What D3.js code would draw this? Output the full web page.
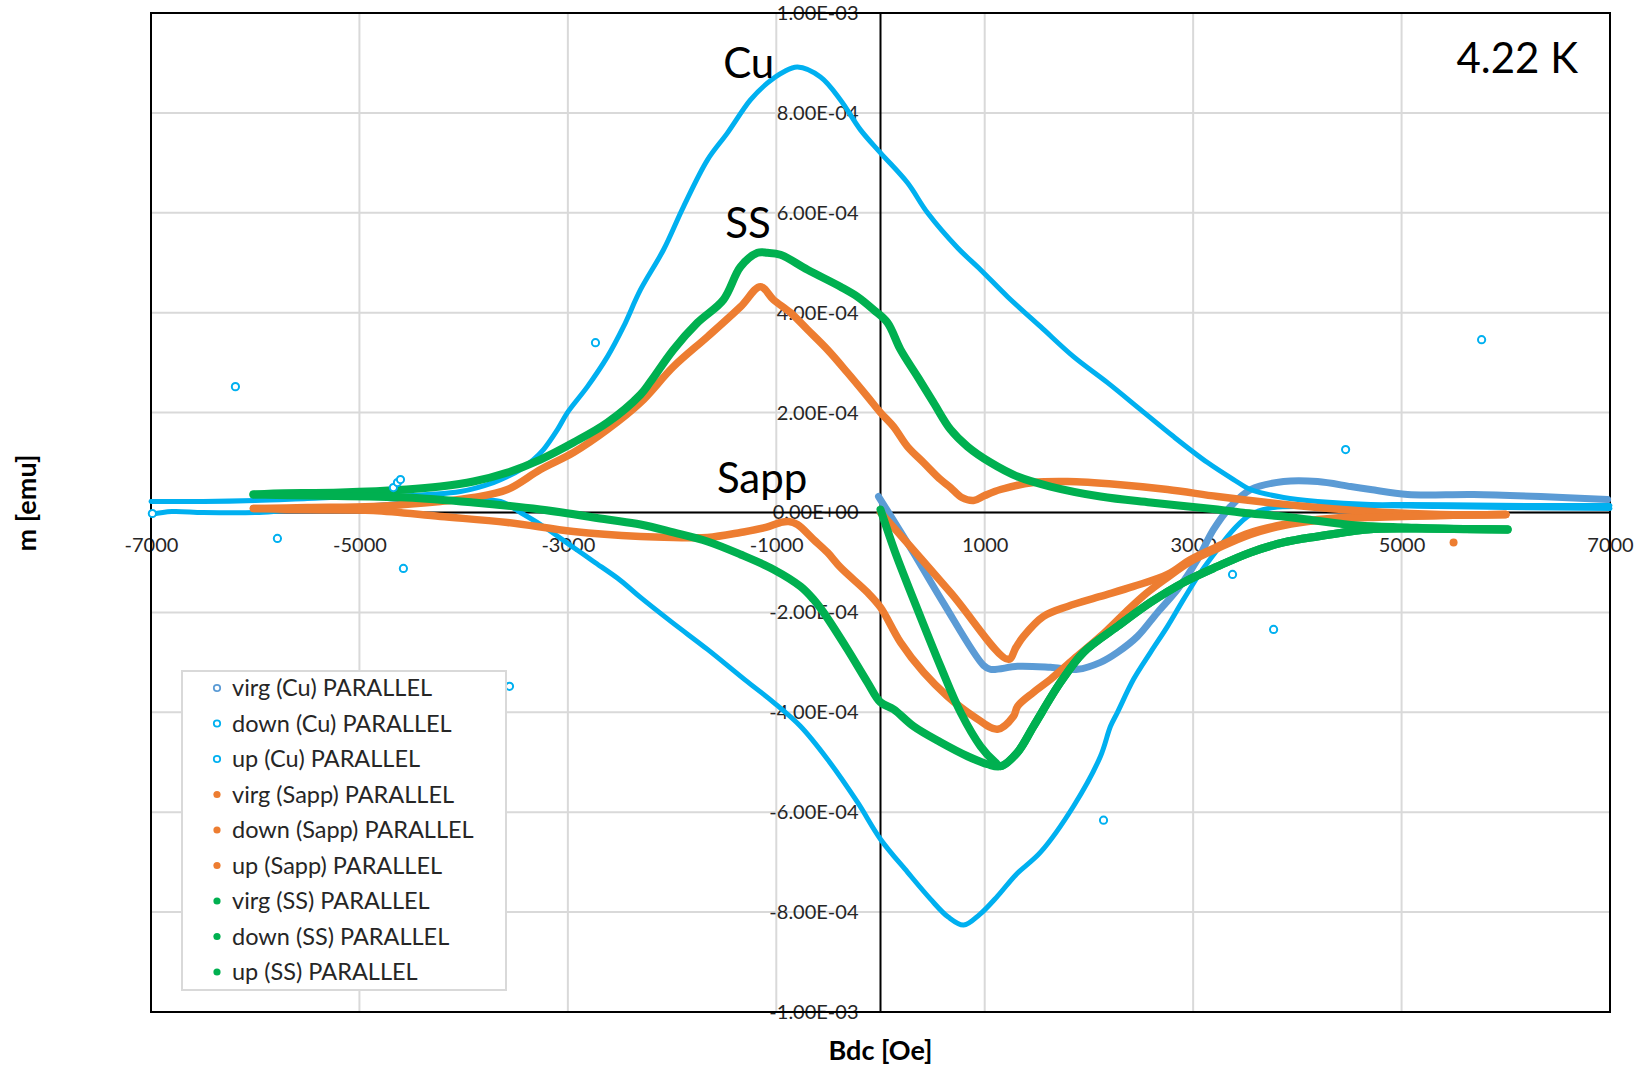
<!DOCTYPE html>
<html>
<head>
<meta charset="utf-8">
<script src="https://cdn.jsdelivr.net/npm/d3@7"></script>
<style>
  body { margin: 0; background: #fff; }
  svg { display: block; }
  text { font-family: Lato, "Open Sans", "Noto Sans", sans-serif; }
</style>
</head>
<body>
<svg id="chart" width="1644" height="1069"></svg>
<script>
// Tick values
const fieldTicks = [-7000, -5000, -3000, -1000, 1000, 3000, 5000, 7000];
const momentTicks = [-1e-3, -8e-4, -6e-4, -4e-4, -2e-4, 0, 2e-4, 4e-4, 6e-4, 8e-4, 1e-3];

// Moment values below are in units of 1e-4 emu; field in Oe.
const UNIT = 1e-4;

// Cu sample
const cuVirg = [[-19,0.32],[300,-0.75],[600,-1.8],[988,-3.06],[1056,-3.14],[1315,-3.08],[1631,-3.1],[1891,-3.14],[2111,-3.0],[2274,-2.8],[2466,-2.48],[2658,-2.0],[2850,-1.54],[3042,-0.94],[3196,-0.34],[3359,0.12],[3551,0.46],[3868,0.62],[4194,0.62],[4511,0.52],[4703,0.46],[5058,0.36],[5691,0.36],[6334,0.32],[6977,0.26]];
const cuDown = [[7000,0.14],[6300,0.14],[5691,0.15],[5058,0.16],[4703,0.16],[4194,0.22],[3868,0.3],[3551,0.46],[3388,0.66],[3138,1.0],[2812,1.52],[2495,2.06],[2178,2.6],[1852,3.12],[1536,3.72],[1219,4.32],[960,4.86],[739,5.3],[451,6.0],[259,6.6],[0,7.2],[-192,7.66],[-384,8.26],[-576,8.72],[-797,8.92],[-931,8.82],[-1084,8.6],[-1248,8.26],[-1468,7.6],[-1660,7.06],[-1891,6.12],[-2082,5.26],[-2303,4.46],[-2466,3.72],[-2620,3.12],[-2812,2.52],[-3004,2.0],[-3100,1.66],[-3234,1.26],[-3330,1.06],[-3455,0.86],[-3580,0.72],[-3714,0.6],[-4031,0.42],[-4347,0.36],[-4674,0.32],[-5000,0.32],[-5500,0.28],[-6000,0.24],[-6500,0.22],[-7000,0.22]];
const cuUp = [[-7000,-0.04],[-6800,0.02],[-6500,0.0],[-6000,0.0],[-5700,0.04],[-5000,0.12],[-4500,0.2],[-4000,0.26],[-3647,0.22],[-3455,0.0],[-3234,-0.28],[-2946,-0.7],[-2754,-0.98],[-2495,-1.36],[-2303,-1.7],[-2000,-2.2],[-1660,-2.74],[-1300,-3.35],[-1027,-3.8],[-768,-4.28],[-509,-4.94],[-221,-5.8],[0,-6.54],[259,-7.2],[480,-7.74],[650,-8.1],[797,-8.26],[950,-8.05],[1123,-7.68],[1300,-7.25],[1536,-6.8],[1852,-5.88],[2111,-4.88],[2207,-4.28],[2274,-4.0],[2428,-3.34],[2591,-2.8],[2754,-2.28],[2908,-1.74],[3071,-1.2],[3234,-0.74],[3388,-0.34],[3551,-0.04],[3772,0.1],[4194,0.12],[4703,0.14],[5300,0.12],[6000,0.1],[7000,0.08]];
const cuStray = [[-6987,-0.02],[-6190,2.52],[-5787,-0.52],[-4674,0.5],[-4635,0.6],[-4606,0.66],[-4578,-1.12],[-3560,-3.48],[-2735,3.4],[2140,-6.16],[3378,-1.24],[3772,-2.34],[4463,1.26],[5768,3.46]];

// Sapphire sample
const sappVirg = [[0,0],[672,-1.6],[1228,-2.94],[1300,-2.7],[1372,-2.48],[1564,-2.08],[1795,-1.88],[2111,-1.68],[2428,-1.48],[2754,-1.24],[2975,-0.94],[3234,-0.68],[3551,-0.4],[3868,-0.24],[4194,-0.14],[4674,-0.08],[5374,-0.06],[6000,-0.04]];
const sappDown = [[6000,-0.04],[5374,-0.04],[4703,0.02],[4194,0.1],[3714,0.2],[3234,0.32],[2754,0.46],[2274,0.56],[1795,0.62],[1468,0.6],[1152,0.46],[1000,0.34],[893,0.24],[780,0.3],[672,0.5],[576,0.66],[413,1.0],[259,1.32],[125,1.72],[0,2.0],[-125,2.32],[-317,2.8],[-509,3.26],[-700,3.66],[-864,4.0],[-1027,4.26],[-1152,4.52],[-1343,4.12],[-1660,3.52],[-1987,2.92],[-2303,2.2],[-2620,1.66],[-2946,1.2],[-3263,0.86],[-3580,0.46],[-3906,0.3],[-4223,0.22],[-4866,0.12],[-5499,0.1],[-6017,0.08]];
const sappUp = [[-6017,0.08],[-5500,0.06],[-4866,0.04],[-4223,-0.08],[-3580,-0.2],[-2946,-0.38],[-2303,-0.48],[-1987,-0.5],[-1660,-0.5],[-1343,-0.4],[-1100,-0.3],[-960,-0.2],[-880,-0.18],[-797,-0.24],[-643,-0.54],[-509,-0.8],[-384,-1.1],[-125,-1.6],[0,-1.9],[192,-2.6],[413,-3.2],[643,-3.68],[893,-4.08],[1123,-4.34],[1276,-4.08],[1315,-3.88],[1468,-3.6],[1631,-3.34],[1852,-2.94],[2111,-2.48],[2350,-2.0],[2550,-1.62],[2754,-1.3],[2975,-0.98],[3234,-0.72],[3551,-0.44],[3868,-0.26],[4194,-0.16],[4674,-0.1],[5374,-0.06],[6000,-0.04]];
const sappStray = [[5499,-0.6]];

// Stainless steel sample
const ssVirg = [[0,0.06],[150,-0.85],[317,-1.74],[576,-3.08],[768,-4.0],[960,-4.68],[1100,-5.0],[1152,-5.08],[1315,-4.8],[1468,-4.28],[1727,-3.4],[1948,-2.8],[2274,-2.28],[2591,-1.8],[2908,-1.4],[3234,-1.08],[3551,-0.8],[3868,-0.6],[4194,-0.48],[4674,-0.34],[5058,-0.32],[6017,-0.34]];
const ssDown = [[6017,-0.34],[5500,-0.33],[5058,-0.3],[4578,-0.26],[4098,-0.14],[3868,-0.08],[3455,0.0],[3234,0.06],[2591,0.2],[2111,0.32],[1631,0.52],[1315,0.72],[1056,1.0],[835,1.32],[672,1.66],[509,2.2],[355,2.72],[192,3.26],[67,3.8],[-67,4.06],[-221,4.32],[-384,4.52],[-700,4.86],[-960,5.16],[-1084,5.2],[-1180,5.2],[-1343,4.92],[-1507,4.26],[-1756,3.8],[-1987,3.26],[-2207,2.62],[-2303,2.36],[-2620,1.8],[-2946,1.4],[-3263,1.06],[-3580,0.8],[-3906,0.62],[-4223,0.52],[-4549,0.46],[-5182,0.4],[-5825,0.38],[-6017,0.36]];
const ssUp = [[-6017,0.36],[-5500,0.34],[-4549,0.3],[-3906,0.2],[-3263,0.06],[-2620,-0.14],[-2303,-0.24],[-1987,-0.4],[-1660,-0.58],[-1343,-0.84],[-1027,-1.14],[-768,-1.48],[-643,-1.74],[-547,-2.0],[-317,-2.74],[-125,-3.4],[0,-3.8],[125,-3.94],[317,-4.28],[576,-4.6],[835,-4.88],[1027,-5.04],[1152,-5.08],[1315,-4.8],[1468,-4.28],[1727,-3.4],[1948,-2.8],[2274,-2.28],[2591,-1.8],[2908,-1.4],[3234,-1.08],[3551,-0.8],[3868,-0.6],[4194,-0.48],[4674,-0.34],[5058,-0.32],[6017,-0.34]];

const seriesNames = ["virg (Cu) PARALLEL","down (Cu) PARALLEL","up (Cu) PARALLEL",
  "virg (Sapp) PARALLEL","down (Sapp) PARALLEL","up (Sapp) PARALLEL",
  "virg (SS) PARALLEL","down (SS) PARALLEL","up (SS) PARALLEL"];
const seriesData = [cuVirg, cuDown, cuUp, sappVirg, sappDown, sappUp, ssVirg, ssDown, ssUp];

const annotations = [
  {text: "Cu", B: -1510, m: 8.7},
  {text: "SS", B: -1490, m: 5.5},
  {text: "Sapp", B: -1570, m: 0.4}
];
const temperatureLabel = "4.22 K";

// ---- drawing ----
const C = { cuVirg: "#5B9BD5", cu: "#00B0F0", sapp: "#ED7D31", ss: "#00B050", grid: "#D9D9D9", text: "#262626" };
const styles = [
  {color: C.cuVirg, width: 7, hollow: true},
  {color: C.cu, width: 5, hollow: true},
  {color: C.cu, width: 5, hollow: true},
  {color: C.sapp, width: 7.5},
  {color: C.sapp, width: 7.5},
  {color: C.sapp, width: 7.5},
  {color: C.ss, width: 8},
  {color: C.ss, width: 8},
  {color: C.ss, width: 8}
];

const svg = d3.select("#chart");
const P = {left: 151, right: 1610, top: 13, bottom: 1012};
const x = d3.scaleLinear().domain([-7000, 7000]).range([P.left, P.right]);
const y = d3.scaleLinear().domain([-1e-3, 1e-3]).range([P.bottom, P.top]);

// gridlines
const grid = svg.append("g");
grid.selectAll("line.gv").data(fieldTicks).join("line")
  .attr("x1", d => x(d)).attr("x2", d => x(d))
  .attr("y1", P.top).attr("y2", P.bottom)
  .attr("stroke", C.grid).attr("stroke-width", 2);
grid.selectAll("line.gh").data(momentTicks).join("line")
  .attr("x1", P.left).attr("x2", P.right)
  .attr("y1", d => y(d)).attr("y2", d => y(d))
  .attr("stroke", C.grid).attr("stroke-width", 2);

// tick labels
const fmtE = v => {
  if (v === 0) return "0.00E+00";
  const [mant, ex] = v.toExponential(2).split("e");
  const e = parseInt(ex, 10);
  return mant + "E" + (e < 0 ? "-" : "+") + String(Math.abs(e)).padStart(2, "0");
};
const yAxis = svg.append("g")
  .attr("transform", `translate(${x(0)},0)`)
  .call(d3.axisLeft(y).tickValues(momentTicks).tickFormat(fmtE).tickSize(0).tickPadding(22));
yAxis.select(".domain").remove();
yAxis.selectAll("text").attr("font-size", 20).attr("fill", C.text)
  .style("font-family", "Lato, 'Open Sans', sans-serif");

const xAxis = svg.append("g")
  .attr("transform", `translate(0,${y(0)})`)
  .call(d3.axisBottom(x).tickValues(fieldTicks).tickFormat(d => String(d)).tickSize(0).tickPadding(25));
xAxis.select(".domain").remove();
xAxis.selectAll("text").attr("font-size", 20).attr("fill", C.text)
  .style("font-family", "Lato, 'Open Sans', sans-serif");

// plot frame and zero axes
svg.append("rect")
  .attr("x", P.left).attr("y", P.top)
  .attr("width", P.right - P.left).attr("height", P.bottom - P.top)
  .attr("fill", "none").attr("stroke", "#000").attr("stroke-width", 2);
svg.append("line").attr("x1", P.left).attr("x2", P.right).attr("y1", y(0)).attr("y2", y(0))
  .attr("stroke", "#000").attr("stroke-width", 2);
svg.append("line").attr("x1", x(0)).attr("x2", x(0)).attr("y1", P.top).attr("y2", P.bottom)
  .attr("stroke", "#000").attr("stroke-width", 2);

// series traces
const line = d3.line()
  .x(d => x(d[0]))
  .y(d => y(d[1] * UNIT))
  .curve(d3.curveCatmullRom.alpha(0.5));

const traces = svg.append("g");
seriesData.forEach((pts, i) => {
  traces.append("path")
    .attr("d", line(pts))
    .attr("fill", "none")
    .attr("stroke", styles[i].color)
    .attr("stroke-width", styles[i].width)
    .attr("stroke-linejoin", "round")
    .attr("stroke-linecap", "round");
});

// isolated readings
traces.selectAll("circle.cu").data(cuStray).join("circle")
  .attr("cx", d => x(d[0])).attr("cy", d => y(d[1] * UNIT)).attr("r", 3.6)
  .attr("fill", "#fff").attr("stroke", C.cu).attr("stroke-width", 2);
traces.selectAll("circle.sa").data(sappStray).join("circle")
  .attr("cx", d => x(d[0])).attr("cy", d => y(d[1] * UNIT)).attr("r", 4)
  .attr("fill", C.sapp);

// legend
const legend = svg.append("g");
legend.append("rect")
  .attr("x", 182).attr("y", 671).attr("width", 324).attr("height", 319)
  .attr("fill", "#fff").attr("stroke", C.grid).attr("stroke-width", 2);
const rows = legend.selectAll("g.row").data(seriesNames).join("g")
  .attr("transform", (d, i) => `translate(0,${688 + i * 35.5})`);
rows.append("circle")
  .attr("cx", 217).attr("cy", 0)
  .attr("r", (d, i) => styles[i].hollow ? 3.2 : 3.6)
  .attr("fill", (d, i) => styles[i].hollow ? "#fff" : styles[i].color)
  .attr("stroke", (d, i) => styles[i].hollow ? styles[i].color : "none")
  .attr("stroke-width", 1.8);
rows.append("text")
  .attr("x", 232).attr("y", 0).attr("dy", "0.35em")
  .attr("font-size", 23.5).attr("fill", C.text)
  .text(d => d);

// sample annotations
svg.append("g").selectAll("text").data(annotations).join("text")
  .attr("x", d => x(d.B)).attr("y", d => y(d.m * UNIT))
  .attr("font-size", 42).attr("fill", "#000")
  .text(d => d.text);
svg.append("text")
  .attr("x", 1578).attr("y", 73).attr("text-anchor", "end")
  .attr("font-size", 42).attr("fill", "#000")
  .text(temperatureLabel);

// axis titles
svg.append("text")
  .attr("transform", "translate(36,503) rotate(-90)")
  .attr("text-anchor", "middle").attr("font-size", 27).attr("font-weight", "bold").attr("fill", "#000")
  .text("m [emu]");
svg.append("text")
  .attr("x", x(0)).attr("y", 1060)
  .attr("text-anchor", "middle").attr("font-size", 27).attr("font-weight", "bold").attr("fill", "#000")
  .text("Bdc [Oe]");
</script>
</body>
</html>
